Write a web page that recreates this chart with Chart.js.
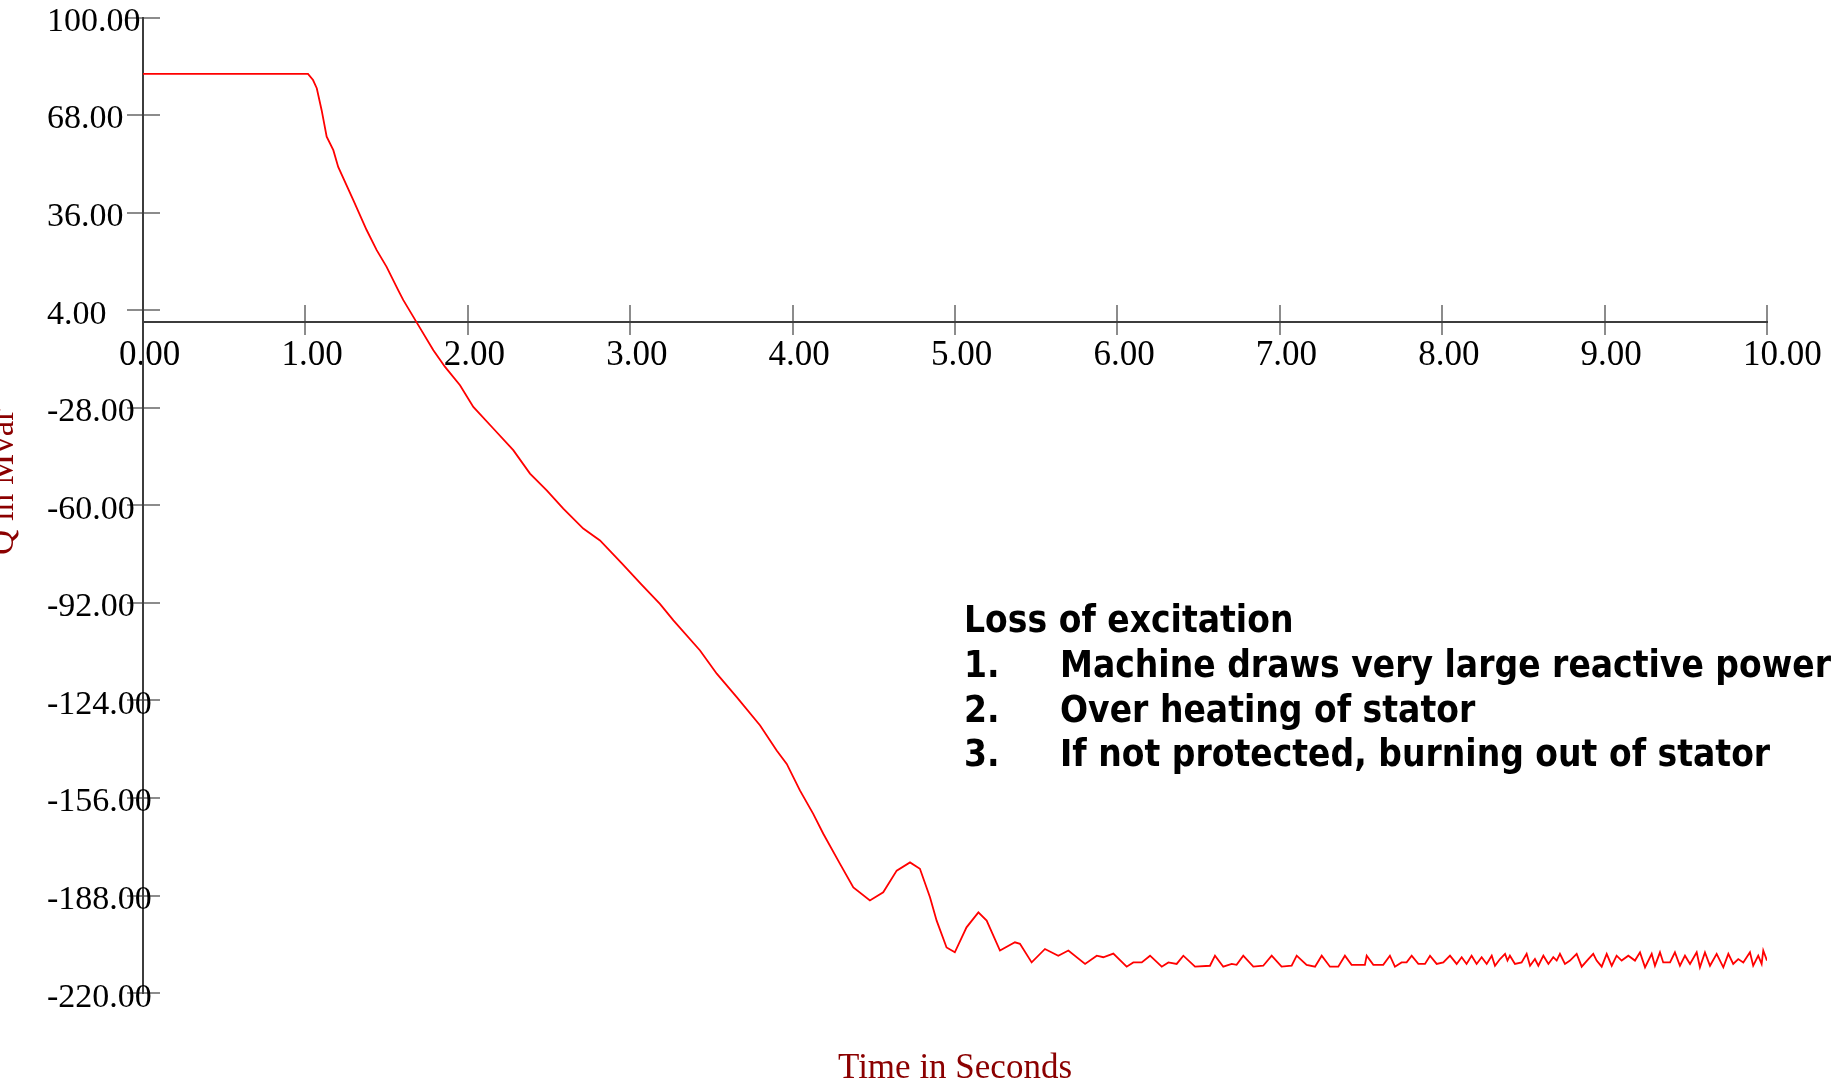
<!DOCTYPE html>
<html>
<head>
<meta charset="utf-8">
<title>Loss of excitation - Q in Mvar</title>
<script src="https://cdn.jsdelivr.net/npm/chart.js@4.4.1/dist/chart.umd.min.js"></script>
<style>
  html, body { margin: 0; padding: 0; background: #fff; }
  #wrap { width: 1843px; height: 1088px; position: relative; }
</style>
</head>
<body>
<div id="wrap"><canvas id="qChart"></canvas></div>
<script>
// time (s) and reactive power Q (Mvar)
const times = [
  0, 1.016, 1.047, 1.070, 1.100, 1.131, 1.172, 1.202, 1.295, 1.377,
  1.439, 1.500, 1.572, 1.603, 1.685, 1.788, 1.860, 1.952, 2.034, 2.157,
  2.280, 2.383, 2.486, 2.588, 2.711, 2.814, 2.950, 3.070, 3.183, 3.266,
  3.430, 3.533, 3.656, 3.800, 3.902, 3.964, 4.045, 4.127, 4.189, 4.292,
  4.374, 4.476, 4.558, 4.641, 4.723, 4.784, 4.846, 4.887, 4.948, 4.999,
  5.071, 5.144, 5.195, 5.277, 5.369, 5.400, 5.472, 5.554, 5.636, 5.698,
  5.801, 5.873, 5.913, 5.975, 6.057, 6.098, 6.150, 6.201, 6.273, 6.314,
  6.365, 6.406, 6.478, 6.570, 6.601, 6.652, 6.704, 6.734, 6.775, 6.837,
  6.898, 6.950, 7.011, 7.073, 7.104, 7.165, 7.217, 7.258, 7.309, 7.360,
  7.401, 7.442, 7.524, 7.535, 7.576, 7.637, 7.678, 7.709, 7.750, 7.781,
  7.812, 7.853, 7.894, 7.925, 7.966, 8.007, 8.048, 8.089, 8.120, 8.150,
  8.181, 8.212, 8.243, 8.274, 8.305, 8.325, 8.356, 8.387, 8.402, 8.417,
  8.448, 8.489, 8.520, 8.541, 8.571, 8.592, 8.623, 8.654, 8.684, 8.705,
  8.725, 8.756, 8.787, 8.828, 8.859, 8.900, 8.930, 8.951, 8.982, 9.013,
  9.044, 9.074, 9.105, 9.146, 9.187, 9.218, 9.249, 9.290, 9.310, 9.341,
  9.361, 9.403, 9.433, 9.464, 9.495, 9.526, 9.567, 9.587, 9.618, 9.649,
  9.690, 9.731, 9.762, 9.792, 9.823, 9.854, 9.895, 9.915, 9.946, 9.967,
  9.977, 10.0
];
const qMvar = [
  81.5, 81.5, 79.5, 76.8, 69.6, 60.9, 56.5, 51.0, 40.1, 30.3,
  23.7, 18.2, 10.5, 7.3, 0, -9.1, -14.6, -20.6, -27.7, -34.8,
  -41.9, -49.6, -55.1, -61.1, -67.6, -71.5, -79.1, -86.0, -92.3, -97.7,
  -107.6, -115.2, -122.9, -132.2, -140.4, -144.8, -153.5, -161.2, -167.7, -177.6,
  -185.3, -189.6, -186.9, -179.8, -177.1, -179.2, -188.5, -196.2, -205.0, -206.6,
  -198.4, -193.5, -196.2, -206.0, -203.3, -203.8, -209.9, -205.5, -207.7, -206.0,
  -210.4, -207.7, -208.2, -207.0, -211.3, -209.9, -209.9, -207.7, -211.3, -209.9,
  -210.4, -207.7, -211.3, -211.0, -207.7, -211.3, -210.4, -210.7, -207.7, -211.3,
  -211.0, -207.7, -211.3, -211.0, -207.7, -210.7, -211.3, -207.7, -211.3, -211.3,
  -207.7, -210.7, -210.7, -207.7, -210.7, -210.7, -207.7, -211.3, -209.9, -209.9,
  -207.7, -210.4, -210.4, -207.7, -210.4, -209.9, -207.7, -210.4, -208.2, -210.4,
  -207.7, -210.4, -208.2, -210.4, -207.7, -211.0, -208.8, -207.1, -209.3, -207.7,
  -210.4, -209.9, -207.1, -211.0, -208.8, -211.0, -207.7, -210.4, -208.2, -209.3,
  -207.1, -210.4, -209.3, -207.1, -211.3, -208.8, -207.1, -209.3, -211.3, -207.1,
  -211.0, -207.7, -209.3, -207.7, -209.3, -206.6, -211.5, -207.1, -211.0, -206.6,
  -209.9, -209.9, -206.6, -211.0, -207.7, -210.4, -206.6, -211.5, -206.6, -211.0,
  -207.1, -211.5, -207.1, -210.4, -208.8, -209.9, -206.6, -211.0, -207.7, -210.4,
  -206.0, -209.3
];

const xTicks = [0, 1, 2, 3, 4, 5, 6, 7, 8, 9, 10];
const yTicks = [-220, -188, -156, -124, -92, -60, -28, 4, 36, 68, 100];

const xTitle = "Time in Seconds";
const yTitle = "Q in Mvar";
const noteTitle = "Loss of excitation";
const noteItems = [
  "Machine draws very large reactive power",
  "Over heating of stator",
  "If not protected, burning out of stator"
];

const points = times.map((t, i) => ({ x: t, y: qMvar[i] }));

const serif = '"Liberation Serif", "Times New Roman", serif';
const noteFont = '"DejaVu Sans Condensed", "DejaVu Sans", sans-serif';
const axisColor = "#3c3c3c";
const tickColor = "#8c8c8c";
const darkRed = "#8b0000";

Chart.defaults.font.family = serif;

const useTicks = (list) => (scale) => {
  scale.ticks = list.map((v) => ({ value: v }));
};
const twoDecimals = (v) => Number(v).toFixed(2);
const noPadding = (scale) => {
  scale.paddingLeft = 0;
  scale.paddingRight = 0;
  scale.paddingTop = 0;
  scale.paddingBottom = 0;
};

// y axis title (cut off at the left edge, like the original) and the note block
const notes = {
  id: "notes",
  afterDraw(chart) {
    const ctx = chart.ctx;
    ctx.save();
    ctx.translate(13, 482);
    ctx.rotate(-Math.PI / 2);
    ctx.font = "35px " + serif;
    ctx.fillStyle = darkRed;
    ctx.textAlign = "center";
    ctx.textBaseline = "alphabetic";
    ctx.fillText(yTitle, 0, 0);
    ctx.restore();

    ctx.save();
    ctx.font = "bold 37px " + noteFont;
    ctx.fontStretch = "condensed";
    // the original face is narrower than DejaVu, squeeze to the same line width
    const w = ctx.measureText(noteItems[0]).width;
    const sx = Math.min(1, 771 / w);
    ctx.scale(sx, 1);
    ctx.fillStyle = "#000";
    ctx.textAlign = "left";
    ctx.textBaseline = "alphabetic";
    ctx.fillText(noteTitle, 964 / sx, 632);
    noteItems.forEach((s, i) => {
      const y = 677 + i * 44.5;
      ctx.fillText(i + 1 + ".", 964 / sx, y);
      ctx.fillText(s, 1060 / sx, y);
    });
    ctx.restore();
  }
};

const ctx = document.getElementById("qChart").getContext("2d");
const qChart = new Chart(ctx, {
  type: "line",
  data: {
    datasets: [
      {
        data: points,
        borderColor: "#ff0000",
        borderWidth: 1.8,
        pointRadius: 0,
        tension: 0,
        fill: false,
      },
    ],
  },
  options: {
    responsive: true,
    maintainAspectRatio: false,
    animation: false,
    layout: {
      padding: { left: 47, right: 76, top: 17.5, bottom: 0 },
    },
    plugins: {
      legend: { display: false },
      tooltip: { enabled: false },
      title: {
        display: true,
        position: "bottom",
        fullSize: false,
        text: xTitle,
        color: darkRed,
        font: { size: 35, weight: "normal", lineHeight: 1.08 },
        padding: { top: 57, bottom: 0 },
      },
    },
    scales: {
      x: {
        type: "linear",
        position: { y: 0 },
        min: 0,
        max: 10,
        afterBuildTicks: useTicks(xTicks),
        afterFit: noPadding,
        grid: { drawOnChartArea: false, tickLength: 12, color: tickColor, lineWidth: 2 },
        border: { color: axisColor, width: 2 },
        ticks: {
          autoSkip: false,
          maxRotation: 0,
          align: "start",
          labelOffset: -24,
          padding: 0,
          color: "#000",
          font: { size: 35 },
          callback: twoDecimals,
        },
      },
      // upper half of the x tick marks (they cross the axis line)
      x2: {
        axis: "x",
        type: "linear",
        position: { y: 0 },
        min: 0,
        max: 10,
        afterBuildTicks: useTicks(xTicks),
        afterFit: noPadding,
        grid: { drawOnChartArea: false, tickLength: -17, color: tickColor, lineWidth: 2 },
        border: { display: false },
        ticks: { display: false },
      },
      y: {
        type: "linear",
        position: "left",
        weight: 1,
        min: -220,
        max: 100,
        afterBuildTicks: useTicks(yTicks),
        afterFit: (scale) => {
          noPadding(scale);
          scale.width = 96;
        },
        grid: { drawOnChartArea: false, tickLength: 16, color: tickColor, lineWidth: 2 },
        border: { color: axisColor, width: 2 },
        ticks: {
          autoSkip: false,
          mirror: true,
          crossAlign: "near",
          padding: -96,
          labelOffset: 4.5,
          color: "#000",
          font: { size: 34 },
          callback: twoDecimals,
        },
      },
      // right half of the y tick marks
      y2: {
        axis: "y",
        type: "linear",
        position: "left",
        weight: 0,
        min: -220,
        max: 100,
        afterBuildTicks: useTicks(yTicks),
        afterFit: (scale) => {
          noPadding(scale);
          scale.width = 0;
        },
        grid: { drawOnChartArea: false, tickLength: -17, color: tickColor, lineWidth: 2 },
        border: { display: false },
        ticks: { display: false },
      },
    },
  },
  plugins: [notes],
});
</script>
</body>
</html>
